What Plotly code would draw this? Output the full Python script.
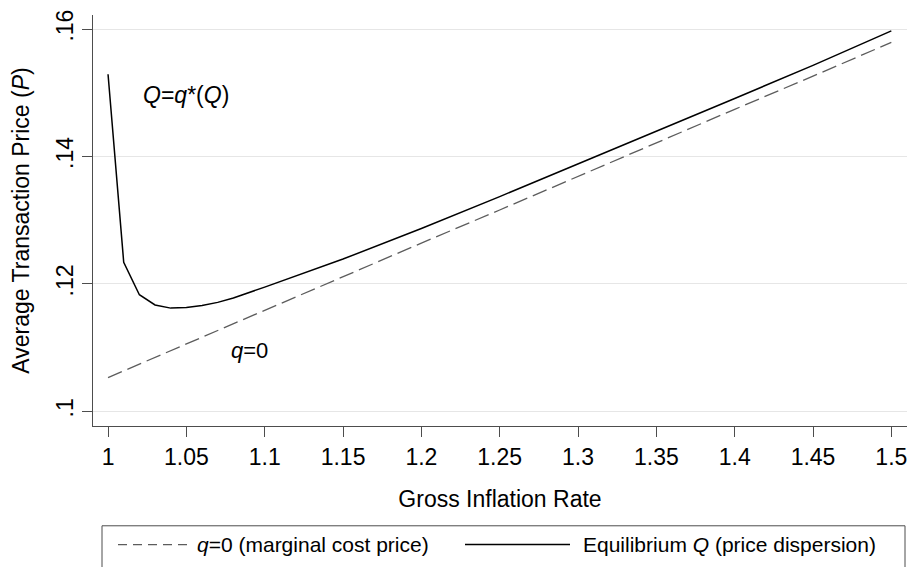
import plotly.graph_objects as go

# values
infl_eq = [1.00, 1.01, 1.02, 1.03, 1.04, 1.05, 1.06, 1.07, 1.08, 1.09, 1.10,
           1.15, 1.20, 1.25, 1.30, 1.35, 1.40, 1.45, 1.50]
price_eq = [0.1529, 0.1234, 0.1183, 0.1167, 0.1162, 0.1163, 0.1166, 0.1171,
            0.1178, 0.1186, 0.1195, 0.1239, 0.1287, 0.1337, 0.1388, 0.1439,
            0.1491, 0.1543, 0.1597]

infl_mc = [1.00, 1.05, 1.10, 1.15, 1.20, 1.25, 1.30, 1.35, 1.40, 1.45, 1.50]
price_mc = [0.1053, 0.1106, 0.1158, 0.1211, 0.1264, 0.1316, 0.1369, 0.1421,
            0.1474, 0.1526, 0.1579]

x_ticks = [1.00, 1.05, 1.10, 1.15, 1.20, 1.25, 1.30, 1.35, 1.40, 1.45, 1.50]
x_labels = ['1', '1.05', '1.1', '1.15', '1.2', '1.25', '1.3', '1.35', '1.4', '1.45', '1.5']
y_ticks = [0.10, 0.12, 0.14, 0.16]
y_labels = ['.1', '.12', '.14', '.16']

FONT = 'Liberation Sans, Arial, sans-serif'
AXIS = '#4d4d4d'
DASH_COL = '#5c5c5c'

# the page body adds an 8px margin, so the figure sits at (8, 8)
OFF = 8
W, H = 915 - OFF, 567 - OFF
ML, MR, MT, MB = 93 - OFF, 8, 10 - OFF, 141
PW, PH = W - ML - MR, H - MT - MB


# screen pixel -> paper fraction
def px(x):
    return (x - OFF - ML) / PW


def py(y):
    return (H - MB - (y - OFF)) / PH


fig = go.Figure()

fig.add_trace(go.Scatter(
    x=infl_mc, y=price_mc, mode='lines',
    line=dict(color=DASH_COL, width=1.3, dash='15px,6px'),
    name='q=0 (marginal cost price)', showlegend=False
))
fig.add_trace(go.Scatter(
    x=infl_eq, y=price_eq, mode='lines',
    line=dict(color='black', width=1.5),
    name='Equilibrium Q (price dispersion)', showlegend=False
))

# hand-built legend box in the Stata style
shapes = [
    dict(type='rect', xref='paper', yref='paper',
         x0=px(102), x1=px(905), y0=py(610), y1=py(527),
         line=dict(color=AXIS, width=1), fillcolor='rgba(0,0,0,0)'),
    dict(type='line', xref='paper', yref='paper',
         x0=px(118), x1=px(192), y0=py(546), y1=py(546),
         line=dict(color=DASH_COL, width=1.2, dash='9px,6px')),
    dict(type='line', xref='paper', yref='paper',
         x0=px(465), x1=px(570), y0=py(546), y1=py(546),
         line=dict(color='black', width=1.5)),
]

annotations = [
    dict(x=1.050, y=0.1497, xref='x', yref='y', showarrow=False,
         text='<i>Q</i>=<i>q</i>*(<i>Q</i>)', font=dict(size=23, color='black')),
    dict(x=1.090, y=0.1095, xref='x', yref='y', showarrow=False,
         text='<i>q</i>=0', font=dict(size=22, color='black')),
    dict(x=px(195), y=py(546), xref='paper', yref='paper', showarrow=False,
         xanchor='left', yanchor='middle',
         text='<i>q</i>=0 (marginal cost price)', font=dict(size=21, color='black')),
    dict(x=px(581), y=py(546), xref='paper', yref='paper', showarrow=False,
         xanchor='left', yanchor='middle',
         text='Equilibrium <i>Q</i> (price dispersion)', font=dict(size=21, color='black')),
]

fig.update_layout(
    width=W, height=H, autosize=False,
    margin=dict(l=ML, r=MR, t=MT, b=MB),
    paper_bgcolor='white', plot_bgcolor='white',
    font=dict(family=FONT, size=23, color='black'),
    showlegend=False,
    shapes=shapes,
    annotations=annotations,
    xaxis=dict(
        range=[0.9904, 1.510], tickvals=x_ticks, ticktext=x_labels,
        showgrid=False, zeroline=False,
        showline=True, linecolor=AXIS, linewidth=1,
        ticks='outside', ticklen=10, tickcolor=AXIS, tickwidth=1,
        tickfont=dict(size=23), ticklabeloverflow='allow',
        title=dict(text='Gross Inflation Rate', font=dict(size=23), standoff=22),
    ),
    yaxis=dict(
        range=[0.0977, 0.1622], tickvals=y_ticks, ticktext=y_labels,
        tickangle=-90, ticklabeloverflow='allow',
        showgrid=True, gridcolor='#e6e6e6', gridwidth=1, zeroline=False,
        showline=True, linecolor=AXIS, linewidth=1,
        ticks='outside', ticklen=10, tickcolor=AXIS, tickwidth=1,
        tickfont=dict(size=23),
        title=dict(text='Average Transaction Price (<i>P</i>)', font=dict(size=23), standoff=22),
    ),
)

fig.write_html('out.html')
